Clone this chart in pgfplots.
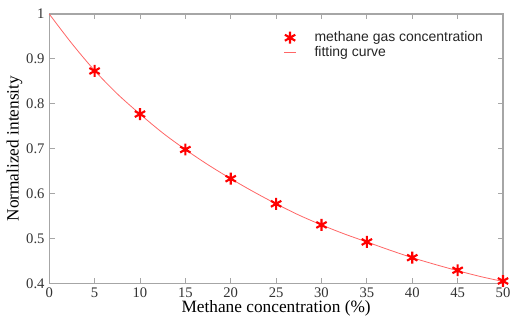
\documentclass[border=0pt]{standalone}
\usepackage{pgfplots}
\pgfplotsset{compat=1.18}
\usepackage{fontspec}
\setmainfont{Liberation Serif}
\newfontfamily\legfont{Liberation Sans}
\begin{document}
\begin{tikzpicture}
\begin{axis}[
  at={(0,0)}, anchor=south west,
  width=341.25pt, height=202.5pt, scale only axis,
  xmin=0, xmax=50, ymin=0.4, ymax=1,
  xtick={0,5,...,50}, ytick={0.4,0.5,...,1.0},
  yticklabels={0.4,0.5,0.6,0.7,0.8,0.9,1},
  tick align=inside, tick pos=both,
  axis line style={draw=gray!70, line width=0.9pt},
  major tick style={draw=gray!70, line width=0.6pt},
  major tick length=4pt,
  tick label style={font=\fontsize{11}{12}\selectfont, text=black!80},
  /pgf/number format/assume math mode=true,
  xlabel={Methane concentration (\%)},
  ylabel={Normalized intensity},
  label style={font=\fontsize{13}{14}\selectfont},
  xlabel style={yshift=4.5pt},
  ylabel style={yshift=-4pt},
  legend style={draw=none, fill=none, at={(0.494,0.955)}, anchor=north west,
     font=\legfont\fontsize{10.5}{11.5}\selectfont, row sep=-2pt, text=black!85},
  legend cell align=left,
  clip=false,
]
\addplot[only marks, mark=asterisk, mark size=4.5pt, red, line width=1.6pt,
  legend image code/.code={\path (0,0) (0.85cm,0); \draw[mark repeat=1] plot coordinates {(0.3cm,0cm)};}]
 coordinates {(5,0.873)(10,0.777)(15,0.698)(20,0.633)(25,0.577)(30,0.530)(35,0.492)(40,0.457)(45,0.429)(50,0.405)};
\addlegendentry{methane gas concentration}
\addplot[smooth, red!60, line width=0.6pt, no marks,
  legend image code/.code={\path (0,0) (0.85cm,0); \draw[red!60, line width=0.6pt] (0.14cm,0cm) -- (0.46cm,0cm);}]
 coordinates {(0,1.0)(2.5,0.934)(5,0.874)(7.5,0.822)(10,0.777)(12.5,0.735)(15,0.698)(17.5,0.664)(20,0.633)(22.5,0.604)(25,0.577)(27.5,0.552)(30,0.530)(32.5,0.510)(35,0.492)(37.5,0.474)(40,0.457)(42.5,0.442)(45,0.428)(47.5,0.415)(50,0.404)};
\addlegendentry{fitting curve}
\end{axis}
\pgfresetboundingbox
\path[use as bounding box] (-37pt,-27pt) rectangle (346.5pt,213pt);
\end{tikzpicture}
\end{document}
